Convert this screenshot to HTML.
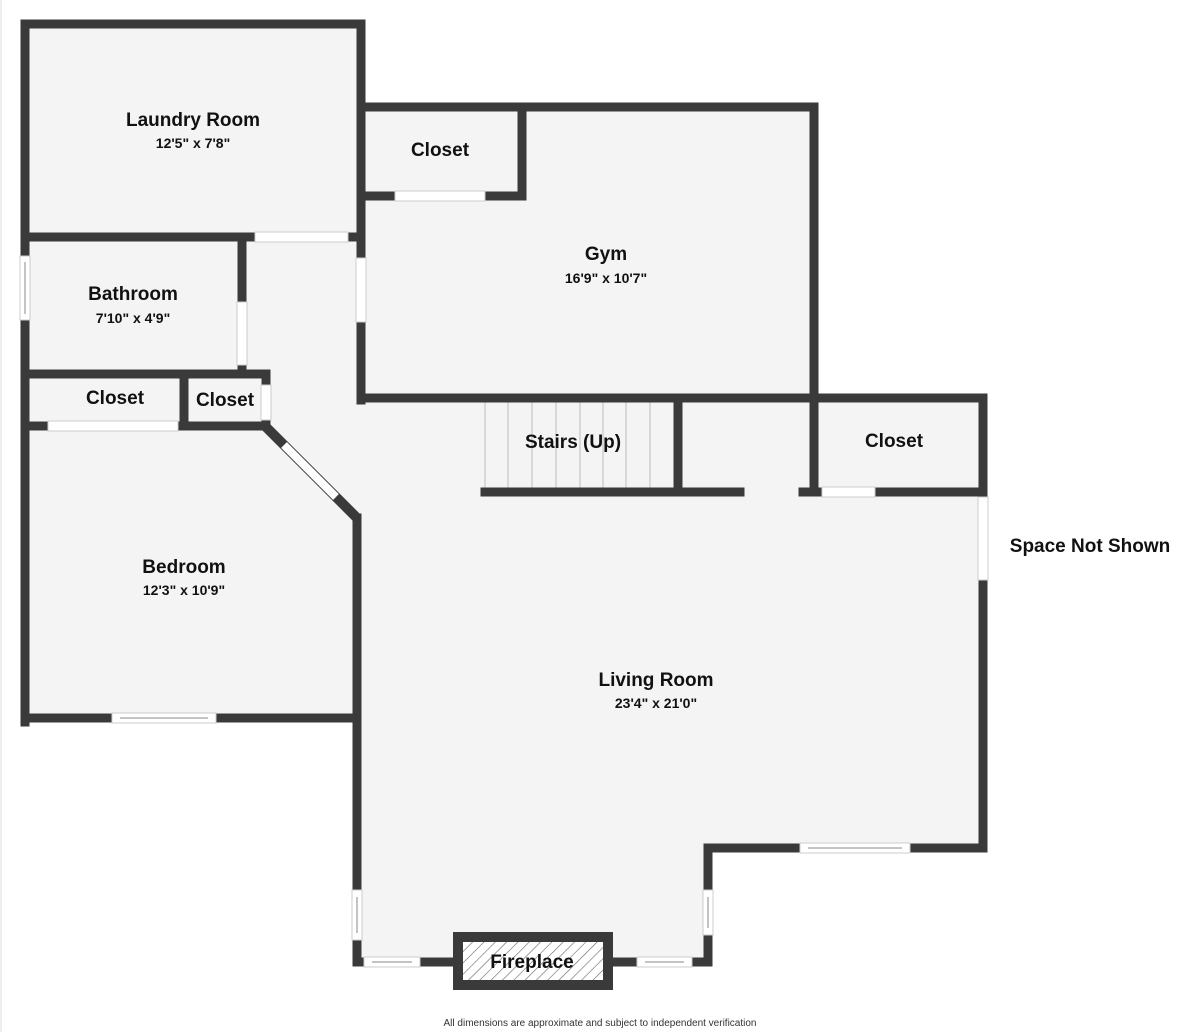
<!DOCTYPE html>
<html><head><style>
html,body{margin:0;padding:0;background:#fff;}
svg{display:block;}
text{font-family:"Liberation Sans","DejaVu Sans",sans-serif;fill:#111;text-anchor:middle;}
.n{font-size:19px;font-weight:bold;}
.d{font-size:14px;font-weight:bold;}
</style></head><body>
<svg width="1200" height="1032" viewBox="0 0 1200 1032" xmlns="http://www.w3.org/2000/svg">
<defs>
<pattern id="h" width="8" height="8" patternUnits="userSpaceOnUse" patternTransform="rotate(45)">
<rect width="8" height="8" fill="#fff"/><line x1="0" y1="0" x2="0" y2="8" stroke="#666" stroke-width="1.2"/>
</pattern>
</defs>
<line x1="1" y1="0" x2="1" y2="1032" stroke="#ddd"/>
<!-- floors -->
<g fill="#f4f4f4">
<rect x="25" y="24" width="336" height="213"/>
<rect x="25" y="237" width="217" height="137"/>
<rect x="242" y="237" width="119" height="190"/>
<rect x="25" y="374" width="241" height="52"/>
<polygon points="25,426 266,426 357,518 357,718 25,718"/>
<rect x="361" y="107" width="453" height="291"/>
<polygon points="266,400 361,398 985,398 985,848 708,848 708,962 357,962 357,518 266,427"/>
</g>
<rect x="458" y="937" width="150" height="48" fill="url(#h)"/>
<!-- stair lines -->
<g stroke="#bbb" stroke-width="1">
<line x1="485" y1="402" x2="485" y2="488"/><line x1="508" y1="402" x2="508" y2="488"/>
<line x1="532" y1="402" x2="532" y2="488"/><line x1="556" y1="402" x2="556" y2="488"/>
<line x1="580" y1="402" x2="580" y2="488"/><line x1="603" y1="402" x2="603" y2="488"/>
<line x1="626" y1="402" x2="626" y2="488"/><line x1="650" y1="402" x2="650" y2="488"/>
</g>
<!-- walls -->
<g stroke="#3a3a3a" stroke-width="9" stroke-linecap="square" fill="none">
<polyline points="25,722 25,24 361,24 361,400"/>
<line x1="361" y1="107" x2="814" y2="107"/>
<line x1="814" y1="107" x2="814" y2="398"/>
<line x1="361" y1="398" x2="983" y2="398"/>
<line x1="983" y1="398" x2="983" y2="848"/>
<line x1="708" y1="848" x2="983" y2="848"/>
<line x1="708" y1="848" x2="708" y2="962"/>
<line x1="612" y1="962" x2="708" y2="962"/>
<line x1="357" y1="962" x2="453" y2="962"/>
<line x1="357" y1="518" x2="357" y2="962"/>
<line x1="25" y1="718" x2="357" y2="718"/>
<line x1="25" y1="237" x2="361" y2="237"/>
<line x1="242" y1="237" x2="242" y2="374"/>
<line x1="25" y1="374" x2="266" y2="374"/>
<line x1="25" y1="426" x2="266" y2="426"/>
<line x1="184" y1="374" x2="184" y2="426"/>
<line x1="266" y1="374" x2="266" y2="426"/>
<line x1="522" y1="107" x2="522" y2="196"/>
<line x1="361" y1="196" x2="522" y2="196"/>
<line x1="678" y1="398" x2="678" y2="492"/>
<line x1="485" y1="492" x2="740" y2="492"/>
<line x1="814" y1="398" x2="814" y2="492"/>
<line x1="803" y1="492" x2="983" y2="492"/>
</g>
<line x1="266" y1="427" x2="357" y2="518" stroke="#3a3a3a" stroke-width="10"/>
<rect x="458" y="937" width="150" height="48" fill="none" stroke="#3a3a3a" stroke-width="10"/>
<!-- openings / windows -->
<g fill="#fff" stroke="#ccc" stroke-width="1">
<rect x="356" y="258" width="10" height="64"/>
<rect x="255" y="232" width="93" height="10"/>
<rect x="237" y="302" width="10" height="63"/>
<rect x="261" y="385" width="10" height="35"/>
<rect x="48" y="421" width="130" height="10"/>
<rect x="395" y="191" width="90" height="10"/>
<rect x="822" y="487" width="53" height="10"/>
<rect x="978" y="497" width="10" height="83"/>
<rect x="20" y="256" width="10" height="64"/>
<rect x="112" y="713" width="104" height="10"/>
<rect x="352" y="890" width="10" height="50"/>
<rect x="364" y="957" width="56" height="10"/>
<rect x="637" y="957" width="55" height="10"/>
<rect x="703" y="890" width="10" height="45"/>
<rect x="800" y="843" width="110" height="10"/>
</g>
<g stroke="#888" stroke-width="1">
<line x1="25" y1="262" x2="25" y2="314"/><line x1="120" y1="718" x2="208" y2="718"/>
<line x1="357" y1="897" x2="357" y2="933"/><line x1="372" y1="962" x2="412" y2="962"/>
<line x1="645" y1="962" x2="684" y2="962"/><line x1="708" y1="897" x2="708" y2="928"/>
<line x1="808" y1="848" x2="902" y2="848"/>
</g>
<line x1="284" y1="445" x2="336" y2="497" stroke="#fff" stroke-width="8"/>
<!-- labels -->
<text class="n" x="193" y="126">Laundry Room</text><text class="d" x="193" y="148">12'5" x 7'8"</text>
<text class="n" x="440" y="156">Closet</text>
<text class="n" x="606" y="260">Gym</text><text class="d" x="606" y="283">16'9" x 10'7"</text>
<text class="n" x="133" y="300">Bathroom</text><text class="d" x="133" y="323">7'10" x 4'9"</text>
<text class="n" x="115" y="404">Closet</text>
<text class="n" x="225" y="406">Closet</text>
<text class="n" x="573" y="448">Stairs (Up)</text>
<text class="n" x="894" y="447">Closet</text>
<text class="n" x="1090" y="552">Space Not Shown</text>
<text class="n" x="184" y="573">Bedroom</text><text class="d" x="184" y="595">12'3" x 10'9"</text>
<text class="n" x="656" y="686">Living Room</text><text class="d" x="656" y="708">23'4" x 21'0"</text>
<text class="n" x="532" y="968">Fireplace</text>
<text x="600" y="1026" style="font-size:10px;fill:#333">All dimensions are approximate and subject to independent verification</text>
</svg>
</body></html>
